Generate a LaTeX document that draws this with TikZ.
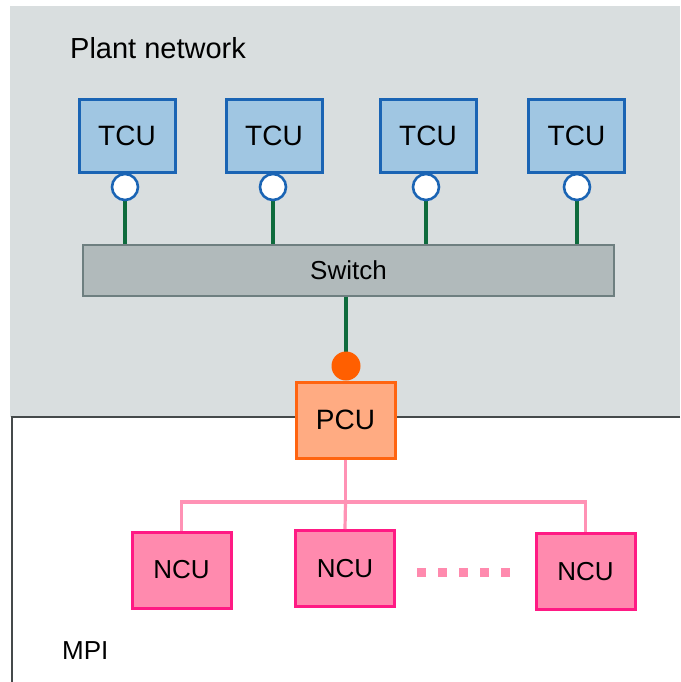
\documentclass[tikz,border=0pt]{standalone}
\usepackage{fontspec}
\setmainfont{Liberation Sans}
\definecolor{bggray}{HTML}{D9DEDF}
\definecolor{tcufill}{HTML}{A0C6E2}
\definecolor{tculine}{HTML}{1A64B4}
\definecolor{swfill}{HTML}{B1BABB}
\definecolor{swline}{HTML}{6E7F80}
\definecolor{linkgreen}{HTML}{0E6B3D}
\definecolor{dotorange}{HTML}{FF5F00}
\definecolor{pcufill}{HTML}{FFAB82}
\definecolor{pculine}{HTML}{FF6410}
\definecolor{ncufill}{HTML}{FF8AAE}
\definecolor{nculine}{HTML}{FF1A84}
\definecolor{linkpink}{HTML}{FF92B5}
\definecolor{borderdark}{HTML}{454A4B}
\begin{document}
\begin{tikzpicture}[x=1pt,y=-1pt,
  tcubox/.style={draw=tculine,fill=tcufill,line width=3pt,minimum width=96pt,minimum height=72pt,inner sep=0pt,font=\fontsize{28}{30}\selectfont},
  port/.style={circle,draw=tculine,fill=white,line width=2.6pt,minimum size=26pt,inner sep=0pt},
  switchbox/.style={draw=swline,fill=swfill,line width=1.6pt,minimum width=531pt,minimum height=51pt,inner sep=0pt,font=\fontsize{26}{28}\selectfont},
  greenlink/.style={draw=linkgreen,line width=3.2pt},
  pcubox/.style={draw=pculine,fill=pcufill,line width=3pt,minimum width=99pt,minimum height=76pt,inner sep=0pt,font=\fontsize{28}{30}\selectfont},
  ncubox/.style={draw=nculine,fill=ncufill,line width=3pt,minimum width=99pt,minimum height=76pt,inner sep=0pt,font=\fontsize{26}{28}\selectfont},
  pinklink/.style={draw=linkpink,line width=3.2pt},
  zonelabel/.style={anchor=base west,inner sep=0pt}
]
\useasboundingbox (0,0) rectangle (680,682);
\fill[white] (0,0) rectangle (680,682);
\fill[bggray] (10,6) rectangle (680,417);
\draw[borderdark,line width=2pt] (680,417) -- (12,417) -- (12,682);

\node[zonelabel,font=\fontsize{29}{31}\selectfont] (plant) at (70,59) {Plant network};
\node[zonelabel,font=\fontsize{26}{28}\selectfont] (mpi) at (62,659) {MPI};

% TCUs and ports
\node[tcubox] (t1) at (127,136) {TCU};
\node[tcubox] (t2) at (274,136) {TCU};
\node[tcubox] (t3) at (428,136) {TCU};
\node[tcubox] (t4) at (576.5,136) {TCU};
\node[switchbox] (sw) at (348.5,270.5) {Switch};
\coordinate (pg) at (346,366);

\foreach \i/\x in {1/125,2/273,3/426,4/577}{
  \coordinate (c\i) at (\x,187);
  \draw[greenlink] (c\i) -- (c\i |- sw.north);
}
\draw[greenlink] (sw.south -| pg) -- (pg);

\foreach \i in {1,2,3,4}{
  \node[port] (p\i) at (c\i) {};
}

% PCU
\node[pcubox] (pcu) at (345.5,420) {PCU};
\node[circle,fill=dotorange,minimum size=29pt,inner sep=0pt] (pdot) at (pg) {};

% NCUs
\coordinate (bus) at (345.5,502);
\node[ncubox] (n1) at (181.5,570) {NCU};
\node[ncubox] (n2) at (345,568.5) {NCU};
\node[ncubox] (n3) at (585.5,571.5) {NCU};
\draw[pinklink] (pcu.south) -- (bus);
\draw[pinklink] (n1.north) -- (n1.north |- bus) -- (n3.north |- bus) -- (n3.north);
\draw[pinklink] (bus) -- (n2.north);
\coordinate (dotsA) at (417,572);
\coordinate (dotsB) at (515,572);
\draw[draw=ncufill,line width=9pt,dash pattern=on 9pt off 12pt] (dotsA) -- (dotsB);
\end{tikzpicture}
\end{document}
